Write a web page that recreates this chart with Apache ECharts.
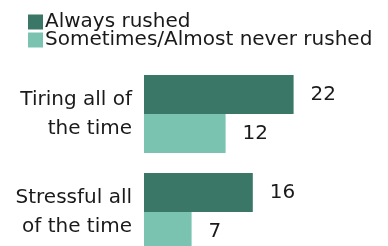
<!DOCTYPE html>
<html>
<head>
<meta charset="utf-8">
<script src="https://cdn.jsdelivr.net/npm/echarts@6/dist/echarts.min.js"></script>
<style>
  html, body { margin: 0; padding: 0; background: #fff; }
  #chart { width: 388px; height: 246px; }
</style>
</head>
<body>
<div id="chart"></div>
<script>
// data
const categories = ["Tiring all of\nthe time", "Stressful all\nof the time"];
const alwaysRushed = [22, 16];
const sometimesRushed = [12, 7];
const seriesNames = ["Always rushed", "Sometimes/Almost never rushed"];

const font = "DejaVu Sans, sans-serif";
let myChart = echarts.init(document.getElementById("chart"));
myChart.setOption({
  animation: false,
  textStyle: { fontFamily: font },
  legend: {
    orient: "vertical",
    left: 28,
    top: 12,
    padding: 0,
    itemWidth: 15,
    itemHeight: 15,
    itemGap: -2,
    icon: "rect",
    selectedMode: false,
    textStyle: { fontSize: 20, color: "#1a1a1a", fontFamily: font, padding: [0, 0, 0, -3] },
    data: seriesNames
  },
  grid: { left: 144, top: 65, width: 204, height: 196, outerBoundsMode: "none" },
  xAxis: {
    type: "value",
    min: 0,
    max: 30,
    show: false
  },
  yAxis: {
    type: "category",
    inverse: true,
    data: categories,
    axisLine: { show: false },
    axisTick: { show: false },
    axisLabel: { fontSize: 20, lineHeight: 29, color: "#1a1a1a", margin: 12, align: "right", fontFamily: font }
  },
  series: [
    {
      name: seriesNames[0],
      type: "bar",
      data: alwaysRushed,
      barWidth: 39,
      barGap: "0%",
      itemStyle: { color: "#3a7767" },
      label: { show: true, position: "right", distance: 17, fontSize: 20, color: "#1a1a1a", fontFamily: font }
    },
    {
      name: seriesNames[1],
      type: "bar",
      data: sometimesRushed,
      barWidth: 39,
      itemStyle: { color: "#7ac3b1" },
      label: { show: true, position: "right", distance: 17, fontSize: 20, color: "#1a1a1a", fontFamily: font }
    }
  ]
});
</script>
</body>
</html>
